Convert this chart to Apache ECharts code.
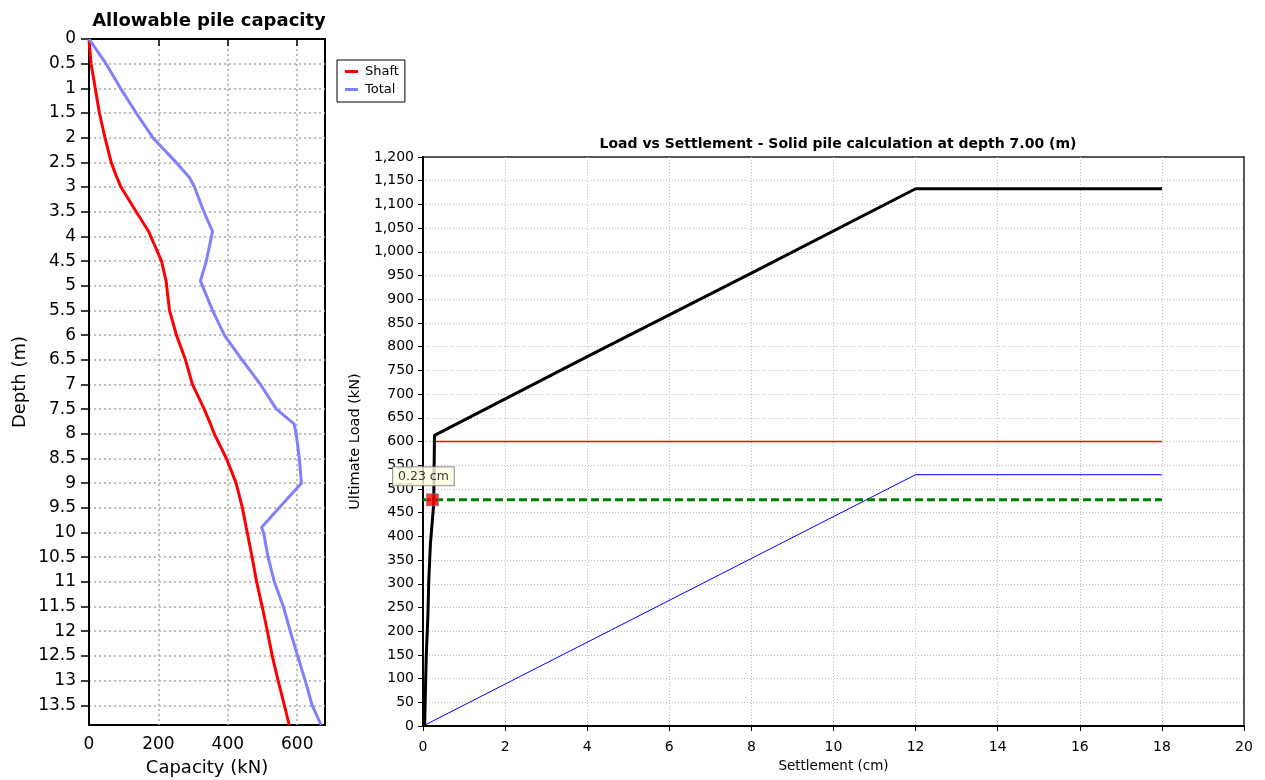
<!DOCTYPE html>
<html>
<head>
<meta charset="utf-8">
<script src="https://cdn.jsdelivr.net/npm/echarts@6/dist/echarts.min.js"></script>
<style>
  html, body { margin: 0; padding: 0; background: #fff; }
  #chart { width: 1265px; height: 780px; }
</style>
</head>
<body>
<div id="chart"></div>
<script>
// Allowable pile capacity vs depth
const depths = [0, 0.5, 1, 1.5, 2, 2.5, 2.8, 3, 3.5, 3.9, 4.5, 4.9, 5.5, 6, 6.5, 7, 7.5, 7.8, 8, 8.5, 9, 9.5, 9.9, 10, 10.5, 11, 11.5, 12, 12.5, 13, 13.5, 13.9];
const shaft  = [0, 6, 18, 30, 46, 64, 80, 92, 136, 172, 209, 222, 232, 252, 278, 298, 332, 350, 361, 396, 424, 442, 453, 456, 470, 483, 499, 514, 528, 545, 563, 577];
const total  = [0, 49, 91, 136, 184, 251, 289, 304, 331, 356, 338, 321, 356, 390, 441, 494, 540, 591, 597, 606, 612, 548, 497, 503, 516, 534, 560, 580, 601, 623, 643, 669];

// Load vs settlement at depth 7.00 m
const curveSettle = [0.04, 0.06, 0.08, 0.12, 0.14, 0.18, 0.26, 0.28, 4, 8, 12, 18];
const curveLoad   = [0, 78, 150, 235, 305, 383, 468, 613, 779, 955, 1133, 1133];
const ultimateSettle = [0.28, 18];
const ultimateLoad   = [600, 600];
const linearSettle = [0, 12, 18];
const linearLoad   = [0, 530, 530];
const workingSettle = [0, 18];
const workingLoad   = [477, 477];
const markSettle = 0.23;
const markLoad = 477;

// axis tick steps
const depthStep = 0.5, capacityStep = 200;
const settleStep = 2, loadStep = 50;

const zip = (xs, ys) => xs.map((x, i) => [x, ys[i]]);

const FONT = 'DejaVu Sans';
const chart = echarts.init(document.getElementById('chart'));

const leftSplit = { show: true, showMinLine: false, showMaxLine: false, lineStyle: { color: '#a8a8a8', type: [2, 3], width: 1.5 } };
const rightSplit = { show: true, showMinLine: false, showMaxLine: false, lineStyle: { color: '#bbbbbb', type: [1, 2], width: 1 } };

chart.setOption({
  animation: false,
  backgroundColor: '#ffffff',
  title: [
    {
      text: 'Allowable pile capacity',
      left: 204, top: 7, textAlign: 'center',
      textStyle: { fontFamily: FONT, fontSize: 18, fontWeight: 'bold', color: '#000' }
    },
    {
      text: 'Load vs Settlement - Solid pile calculation at depth 7.00 (m)',
      left: 833, top: 132, textAlign: 'center',
      textStyle: { fontFamily: FONT, fontSize: 14, fontWeight: 'bold', color: '#000' }
    }
  ],
  legend: {
    data: ['Shaft', 'Total'],
    orient: 'vertical',
    left: 337, top: 60,
    padding: [5, 6, 6, 8],
    itemGap: 5,
    itemWidth: 13, itemHeight: 3,
    icon: 'rect',
    backgroundColor: '#fff',
    borderColor: '#000', borderWidth: 1,
    textStyle: { fontFamily: FONT, fontSize: 13, color: '#000', padding: [0, 0, 0, 2] }
  },
  grid: [
    { left: 89, top: 39, width: 236, height: 686, outerBoundsMode: 'none', containLabel: false,
      show: true, borderColor: '#000', borderWidth: 2, backgroundColor: '#fff' },
    { left: 423, top: 157, right: 21, bottom: 54, outerBoundsMode: 'none', containLabel: false,
      show: true, borderColor: '#222', borderWidth: 1.5, backgroundColor: '#fff' }
  ],
  xAxis: [
    {
      gridIndex: 0, type: 'value', min: 0, max: 680, interval: capacityStep,
      name: 'Capacity (kN)', nameLocation: 'middle', nameGap: 34,
      nameTextStyle: { fontFamily: FONT, fontSize: 18, color: '#000' },
      axisLine: { show: true, lineStyle: { color: '#000', width: 2 } },
      axisTick: { show: true, length: 7, lineStyle: { color: '#000', width: 1.5 } },
      axisLabel: { fontFamily: FONT, fontSize: 17, color: '#000', margin: 11, showMaxLabel: false },
      splitLine: leftSplit
    },
    {
      gridIndex: 1, type: 'value', min: 0, max: 20, interval: settleStep,
      name: 'Settlement (cm)', nameLocation: 'middle', nameGap: 33,
      nameTextStyle: { fontFamily: FONT, fontSize: 13.5, color: '#000' },
      axisLine: { show: true, lineStyle: { color: '#000', width: 2 } },
      axisTick: { show: true, length: 5, lineStyle: { color: '#000' } },
      axisLabel: { fontFamily: FONT, fontSize: 14, color: '#000', margin: 14 },
      splitLine: rightSplit
    }
  ],
  yAxis: [
    {
      gridIndex: 0, type: 'value', inverse: true, min: 0, max: 13.9, interval: depthStep,
      name: 'Depth (m)', nameLocation: 'middle', nameGap: 60,
      nameTextStyle: { fontFamily: FONT, fontSize: 18, color: '#000' },
      axisLine: { show: true, lineStyle: { color: '#000', width: 2 } },
      axisTick: { show: true, length: 8, lineStyle: { color: '#000', width: 1.5 } },
      axisLabel: { fontFamily: FONT, fontSize: 17, color: '#000', margin: 13, showMaxLabel: false },
      splitLine: leftSplit
    },
    {
      gridIndex: 1, type: 'value', min: 0, max: 1200, interval: loadStep,
      name: 'Ultimate Load (kN)', nameLocation: 'middle', nameGap: 58,
      nameTextStyle: { fontFamily: FONT, fontSize: 14.5, color: '#000' },
      axisLine: { show: true, lineStyle: { color: '#000', width: 2 } },
      axisTick: { show: true, length: 5, lineStyle: { color: '#000' } },
      axisLabel: {
        fontFamily: FONT, fontSize: 14, color: '#000', margin: 9,
        formatter: v => v.toLocaleString('en-US')
      },
      splitLine: rightSplit
    }
  ],
  series: [
    {
      name: 'Shaft', type: 'line', xAxisIndex: 0, yAxisIndex: 0,
      data: zip(shaft, depths), showSymbol: false, symbol: 'none',
      lineStyle: { color: '#ff0000', width: 3 }, itemStyle: { color: '#ff0000' }
    },
    {
      name: 'Total', type: 'line', xAxisIndex: 0, yAxisIndex: 0,
      data: zip(total, depths), showSymbol: false, symbol: 'none',
      lineStyle: { color: '#8080ff', width: 3 }, itemStyle: { color: '#8080ff' }
    },
    {
      name: 'Linear', type: 'line', xAxisIndex: 1, yAxisIndex: 1,
      data: zip(linearSettle, linearLoad), symbol: 'none',
      lineStyle: { color: '#0000ff', width: 1 }, itemStyle: { color: '#0000ff' }
    },
    {
      name: 'Ultimate', type: 'line', xAxisIndex: 1, yAxisIndex: 1,
      data: zip(ultimateSettle, ultimateLoad), symbol: 'none',
      lineStyle: { color: '#ff0000', width: 1.3 }, itemStyle: { color: '#ff0000' }
    },
    {
      name: 'Working', type: 'line', xAxisIndex: 1, yAxisIndex: 1,
      data: zip(workingSettle, workingLoad), symbol: 'none',
      lineStyle: { color: '#008000', width: 3, type: [8, 4] }, itemStyle: { color: '#008000' }
    },
    {
      name: 'Load curve', type: 'line', xAxisIndex: 1, yAxisIndex: 1,
      data: zip(curveSettle, curveLoad), symbol: 'none',
      lineStyle: { color: '#000000', width: 3 }, itemStyle: { color: '#000000' }
    },
    {
      name: 'Settlement point', type: 'scatter', xAxisIndex: 1, yAxisIndex: 1,
      data: [[markSettle, markLoad]],
      symbol: 'rect', symbolSize: 12,
      itemStyle: { color: '#ff0000', borderColor: '#808080', borderWidth: 1 },
      label: {
        show: true, position: 'top', distance: 8, offset: [-9, 0],
        formatter: p => p.value[0].toFixed(2) + ' cm',
        fontFamily: FONT, fontSize: 12.5, color: '#000',
        backgroundColor: '#ffffe1', borderColor: '#808080', borderWidth: 1,
        padding: [3, 5, 2, 5]
      },
      z: 10
    }
  ]
});
</script>
</body>
</html>
